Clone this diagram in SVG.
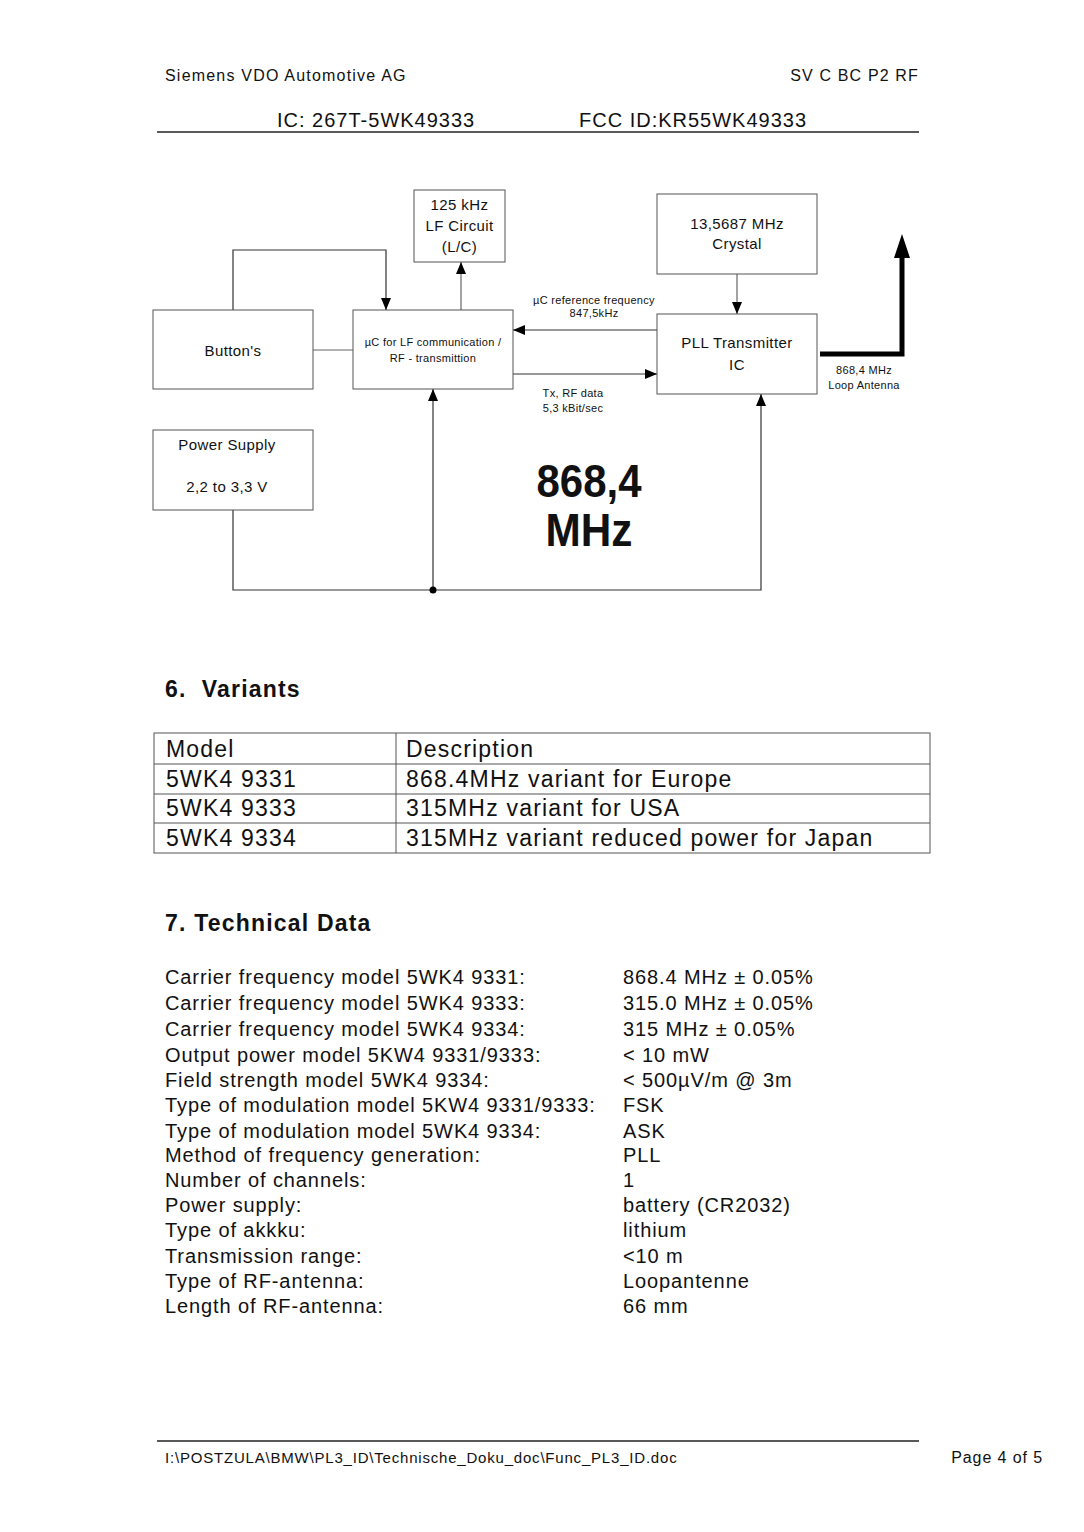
<svg xmlns="http://www.w3.org/2000/svg" width="1084" height="1532" viewBox="0 0 1084 1532">
<style>
text{font-family:"Liberation Sans",Arial,sans-serif;fill:#111}
.box{fill:#fff;stroke:#555;stroke-width:1}
.ln{fill:none;stroke:#333;stroke-width:1.2}
.lg{fill:none;stroke:#666;stroke-width:1.2}
.bx{font-size:15px;text-anchor:middle;letter-spacing:0.4px}
.sm{font-size:11px;text-anchor:middle;letter-spacing:0.3px}
.td{font-size:20px;letter-spacing:0.9px}
.tb{font-size:23px;letter-spacing:1.2px}
.rule{stroke:#222;stroke-width:1.5}
.tl{stroke:#555;stroke-width:1}
</style>
<defs>
<marker id="ah" viewBox="0 0 12 10" refX="12" refY="5" markerWidth="12" markerHeight="10" markerUnits="userSpaceOnUse" orient="auto">
<path d="M0,0 L12,5 L0,10 z" fill="#000"/>
</marker>
</defs>
<rect width="1084" height="1532" fill="#fff"/>

<g id="header">
<text x="165" y="81" font-size="16" letter-spacing="1.2">Siemens VDO Automotive AG</text>
<text x="919" y="81" font-size="16" text-anchor="end" letter-spacing="1.15">SV C BC P2 RF</text>
<text x="277" y="127" font-size="20" letter-spacing="1">IC: 267T-5WK49333</text>
<text x="579" y="127" font-size="20" letter-spacing="1">FCC ID:KR55WK49333</text>
<line class="rule" x1="157" y1="132" x2="919" y2="132"/>
</g>

<g id="connectors">
<polyline class="ln" points="233,310 233,250 386,250 386,310" marker-end="url(#ah)"/>
<line class="lg" x1="313" y1="350" x2="353" y2="350"/>
<line class="lg" x1="461" y1="310" x2="461" y2="262" marker-end="url(#ah)"/>
<line class="ln" x1="657" y1="330" x2="513" y2="330" marker-end="url(#ah)"/>
<line class="ln" x1="513" y1="374" x2="657" y2="374" marker-end="url(#ah)"/>
<line class="lg" x1="737" y1="274" x2="737" y2="314" marker-end="url(#ah)"/>
<polyline fill="none" stroke="#000" stroke-width="5" points="820,354 902,354 902,258"/>
<path d="M894,258 L902,234 L910,258 z" fill="#000"/>
<polyline class="ln" points="233,510 233,590 761,590 761,394" marker-end="url(#ah)"/>
<line class="ln" x1="433" y1="590" x2="433" y2="389" marker-end="url(#ah)"/>
<circle cx="433" cy="590" r="3.5" fill="#000"/>
<text class="sm" x="594" y="304" font-size="10">µC reference frequency</text>
<text class="sm" x="594" y="317" font-size="10">847,5kHz</text>
<text class="sm" x="573" y="397">Tx, RF data</text>
<text class="sm" x="573" y="412">5,3 kBit/sec</text>
<text class="sm" x="864" y="374">868,4 MHz</text>
<text class="sm" x="864" y="389">Loop Antenna</text>
</g>

<g id="lf">
<rect class="box" x="414" y="190" width="91" height="72"/>
<text class="bx" x="459.5" y="210">125 kHz</text>
<text class="bx" x="459.5" y="231">LF Circuit</text>
<text class="bx" x="459.5" y="252">(L/C)</text>
</g>
<g id="crystal">
<rect class="box" x="657" y="194" width="160" height="80"/>
<text class="bx" x="737" y="229">13,5687 MHz</text>
<text class="bx" x="737" y="249">Crystal</text>
</g>
<g id="buttons">
<rect class="box" x="153" y="310" width="160" height="79"/>
<text class="bx" x="233" y="356">Button's</text>
</g>
<g id="uc">
<rect class="box" x="353" y="310" width="160" height="79"/>
<text class="sm" x="433" y="346" letter-spacing="0.8">µC for LF communication /</text>
<text class="sm" x="433" y="362" letter-spacing="0.8">RF - transmittion</text>
</g>
<g id="pll">
<rect class="box" x="657" y="314" width="160" height="80"/>
<text class="bx" x="737" y="348">PLL Transmitter</text>
<text class="bx" x="737" y="370">IC</text>
</g>
<g id="power">
<rect class="box" x="153" y="430" width="160" height="80"/>
<text class="bx" x="227" y="450">Power Supply</text>
<text class="bx" x="227" y="492">2,2 to 3,3 V</text>
</g>
<g id="freq">
<text x="589" y="497" font-size="46" font-weight="bold" text-anchor="middle" textLength="105" lengthAdjust="spacingAndGlyphs">868,4</text>
<text x="589" y="546" font-size="46" font-weight="bold" text-anchor="middle" textLength="87" lengthAdjust="spacingAndGlyphs">MHz</text>
</g>

<g id="variants">
<text x="165" y="697" font-size="23" font-weight="bold" letter-spacing="1.2" xml:space="preserve">6.  Variants</text>
<rect x="154" y="733" width="776" height="120" fill="none" stroke="#555" stroke-width="1"/>
<line class="tl" x1="154" y1="764" x2="930" y2="764"/>
<line class="tl" x1="154" y1="794" x2="930" y2="794"/>
<line class="tl" x1="154" y1="823" x2="930" y2="823"/>
<line class="tl" x1="396" y1="733" x2="396" y2="853"/>
<text class="tb" x="166" y="757">Model</text>
<text class="tb" x="406" y="757">Description</text>
<text class="tb" x="166" y="787">5WK4 9331</text>
<text class="tb" x="406" y="787">868.4MHz variant for Europe</text>
<text class="tb" x="166" y="816">5WK4 9333</text>
<text class="tb" x="406" y="816">315MHz variant for USA</text>
<text class="tb" x="166" y="846">5WK4 9334</text>
<text class="tb" x="406" y="846">315MHz variant reduced power for Japan</text>
</g>

<g id="techdata">
<text x="165" y="931" font-size="23" font-weight="bold" letter-spacing="1.2">7. Technical Data</text>
<text class="td" x="165" y="984">Carrier frequency model 5WK4 9331:</text>
<text class="td" x="165" y="1010">Carrier frequency model 5WK4 9333:</text>
<text class="td" x="165" y="1036">Carrier frequency model 5WK4 9334:</text>
<text class="td" x="165" y="1062">Output power model 5KW4 9331/9333:</text>
<text class="td" x="165" y="1087">Field strength model 5WK4 9334:</text>
<text class="td" x="165" y="1112">Type of modulation model 5KW4 9331/9333:</text>
<text class="td" x="165" y="1138">Type of modulation model 5WK4 9334:</text>
<text class="td" x="165" y="1162">Method of frequency generation:</text>
<text class="td" x="165" y="1187">Number of channels:</text>
<text class="td" x="165" y="1212">Power supply:</text>
<text class="td" x="165" y="1237">Type of akkku:</text>
<text class="td" x="165" y="1263">Transmission range:</text>
<text class="td" x="165" y="1288">Type of RF-antenna:</text>
<text class="td" x="165" y="1313">Length of RF-antenna:</text>
<text class="td" x="623" y="984">868.4 MHz ± 0.05%</text>
<text class="td" x="623" y="1010">315.0 MHz ± 0.05%</text>
<text class="td" x="623" y="1036">315 MHz ± 0.05%</text>
<text class="td" x="623" y="1062">&lt; 10 mW</text>
<text class="td" x="623" y="1087">&lt; 500µV/m @ 3m</text>
<text class="td" x="623" y="1112">FSK</text>
<text class="td" x="623" y="1138">ASK</text>
<text class="td" x="623" y="1162">PLL</text>
<text class="td" x="623" y="1187">1</text>
<text class="td" x="623" y="1212">battery (CR2032)</text>
<text class="td" x="623" y="1237">lithium</text>
<text class="td" x="623" y="1263">&lt;10 m</text>
<text class="td" x="623" y="1288">Loopantenne</text>
<text class="td" x="623" y="1313">66 mm</text>
</g>

<g id="footer">
<line class="rule" x1="157" y1="1441" x2="919" y2="1441"/>
<text x="165" y="1463" font-size="15" letter-spacing="0.8">I:\POSTZULA\BMW\PL3_ID\Technische_Doku_doc\Func_PL3_ID.doc</text>
<text x="1043" y="1463" font-size="16" text-anchor="end" letter-spacing="0.9">Page 4 of 5</text>
</g>
</svg>
